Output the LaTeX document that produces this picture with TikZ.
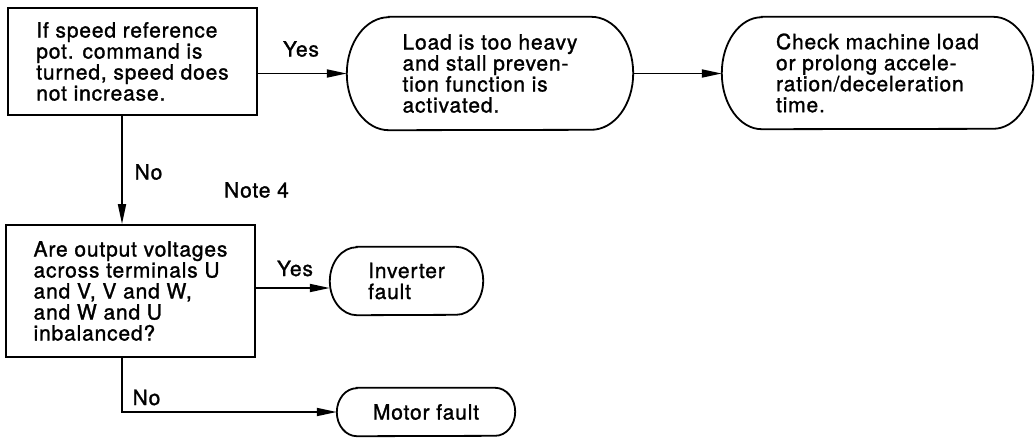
\documentclass[tikz,border=0pt]{standalone}
\usepackage{fontspec}
\setmainfont{TeX Gyre Heros}[LetterSpace=4, FakeBold=1.3]
\usetikzlibrary{arrows.meta,calc}
\newcommand\ovaloutline[3]{%
  \draw[line] ($(#1.north west)+(#2pt,0pt)$) -- ($(#1.north east)+(-#2pt,0pt)$)
    arc[start angle=90,end angle=-90,x radius=#2pt,y radius=#3pt]
    -- ($(#1.south west)+(#2pt,0pt)$)
    arc[start angle=270,end angle=90,x radius=#2pt,y radius=#3pt] -- cycle;}
\begin{document}
\begin{tikzpicture}[x=1pt,y=-1pt,
  every node/.style={font=\fontsize{21}{21}\selectfont, inner sep=0pt},
  line/.style={line width=1.8pt},
  arr/.style={line width=1.8pt, -{Triangle[length=20pt,width=8pt]}},
  procbox/.style={draw, line width=1.8pt, align=left, minimum width=249pt},
  ovaltext/.style={align=left}]
\fill[white] (0,0) rectangle (1035,437);
\useasboundingbox (0,0) rectangle (1035,437);

\node[procbox, minimum height=107pt] (b1) at (132.5,61.5)
  {If speed reference\\pot. command is\\turned, speed does\\not increase.};
\node[procbox, minimum height=132pt] (b2) at (130.5,291)
  {Are output voltages\\across terminals U\\and V, V and W,\\and W and U\\inbalanced?};
\node[ovaltext, minimum width=286pt, minimum height=113pt] (o1) at (490,73.5)
  {Load is too heavy\\and stall preven-\\tion function is\\activated.};
\node[ovaltext, minimum width=311pt, minimum height=112pt] (o2) at (877.5,73)
  {Check machine load\\or prolong accele-\\ration/deceleration\\time.};
\node[ovaltext, minimum width=153pt, minimum height=68pt] (o3) at (406.5,281)
  {Inverter\\fault};
\node[minimum width=178pt, minimum height=48pt] (o4) at (426,412) {Motor fault};

\ovaloutline{o1}{42}{56.5}
\ovaloutline{o2}{40}{56}
\ovaloutline{o3}{27}{34}
\ovaloutline{o4}{20}{24}

\coordinate (vx) at (122,0);
\coordinate (y3) at (0,288);
\draw[arr] (b1.east |- o1.west) -- (o1.west);
\draw[arr] (o1.east) -- (o2.west |- o1.east);
\draw[arr] (b1.south -| vx) -- (b2.north -| vx);
\draw[arr] (b2.east |- y3) -- (o3.west |- y3);
\draw[arr] (b2.south -| vx) |- (o4.west);

\node (yes1) at (301,49) {Yes};
\node (yes2) at (295,268.5) {Yes};
\node (no1) at (148.5,172) {No};
\node (note) at (256.5,190) {Note 4};
\node (no2) at (146.5,397.5) {No};
\end{tikzpicture}
\end{document}
